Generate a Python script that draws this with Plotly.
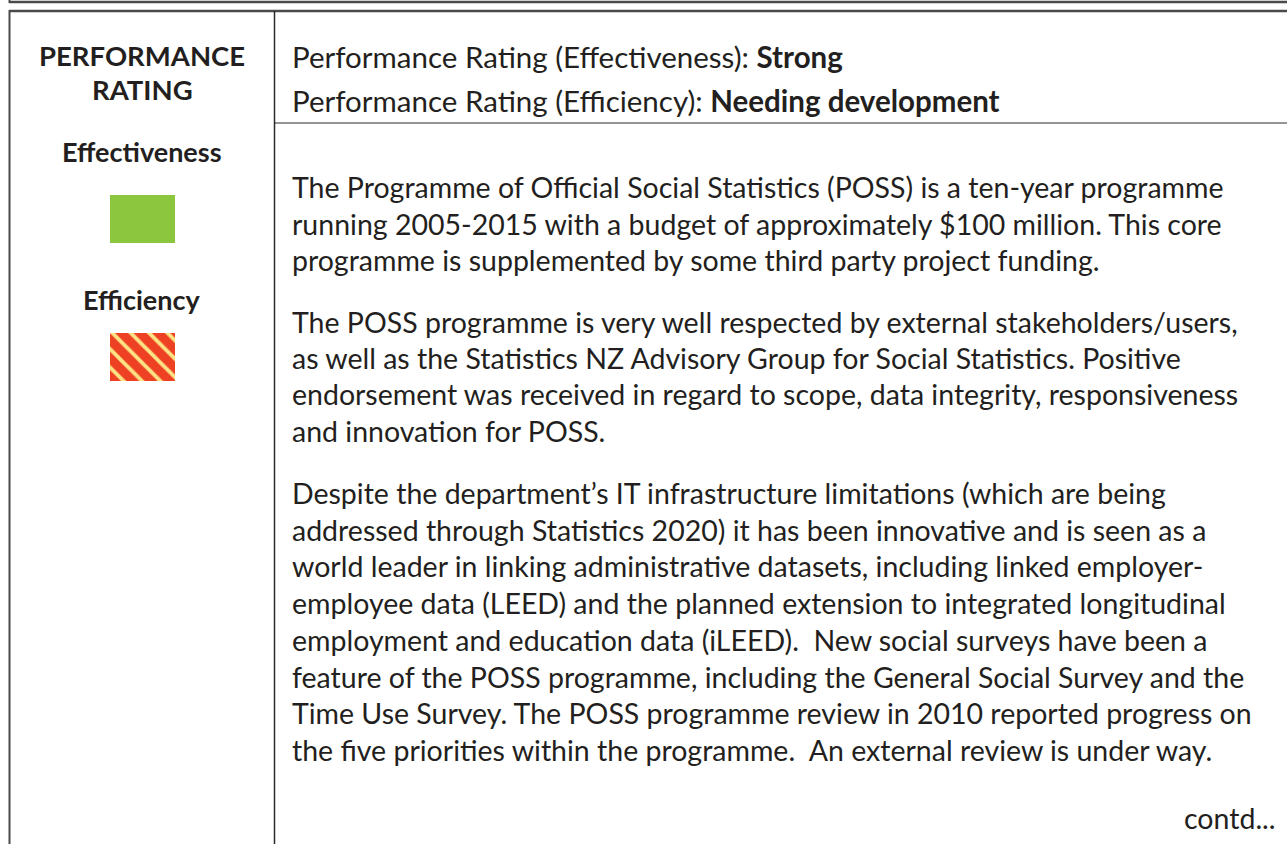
import plotly.graph_objects as go

# Text content
header_lines = [
    "Performance Rating (Effectiveness): <b>Strong</b>",
    "Performance Rating (Efficiency): <b>Needing development</b>",
]
header_y = [56, 100]

body_lines = [
    "The Programme of Official Social Statistics (POSS) is a ten-year programme",
    "running 2005-2015 with a budget of approximately $100 million. This core",
    "programme is supplemented by some third party project funding.",
    "The POSS programme is very well respected by external stakeholders/users,",
    "as well as the Statistics NZ Advisory Group for Social Statistics. Positive",
    "endorsement was received in regard to scope, data integrity, responsiveness",
    "and innovation for POSS.",
    "Despite the department\u2019s IT infrastructure limitations (which are being",
    "addressed through Statistics 2020) it has been innovative and is seen as a",
    "world leader in linking administrative datasets, including linked employer-",
    "employee data (LEED) and the planned extension to integrated longitudinal",
    "employment and education data (iLEED).  New social surveys have been a",
    "feature of the POSS programme, including the General Social Survey and the",
    "Time Use Survey. The POSS programme review in 2010 reported progress on",
    "the five priorities within the programme.  An external review is under way.",
]
body_y = [187, 224, 260, 322, 358, 394, 431, 493, 530, 566, 603, 640, 677, 713, 750]

left_labels = ["<b>PERFORMANCE</b>", "<b>RATING</b>", "<b>Effectiveness</b>", "<b>Efficiency</b>"]
left_y = [55, 89, 151, 299]
left_size = [27.5, 27.5, 27, 27]

FONT = "Lato"
TXT = "#231f20"
LINE = "#4a4a4a"

fig = go.Figure()

# hatched "needing development" swatch
fig.add_trace(go.Bar(
    x=[142.5], y=[48], base=[333], width=[65],
    marker=dict(color="#ee4023", line=dict(width=0),
                pattern=dict(shape="\\", fgcolor="#fde383", bgcolor="#ee4023",
                             size=13, solidity=0.3, fillmode="replace")),
    hoverinfo="skip", showlegend=False,
))

shapes = [
    # bottom of previous box
    dict(type="line", x0=9, x1=1287, y0=2, y1=2, line=dict(color=LINE, width=2.5)),
    dict(type="line", x0=9.5, x1=9.5, y0=0, y1=3, line=dict(color=LINE, width=2)),
    # table frame
    dict(type="line", x0=9, x1=1287, y0=11, y1=11, line=dict(color=LINE, width=2.5)),
    dict(type="line", x0=9.5, x1=9.5, y0=10, y1=844, line=dict(color=LINE, width=2)),
    dict(type="line", x0=274.5, x1=274.5, y0=11, y1=844, line=dict(color="#2a2a2a", width=1.5)),
    dict(type="line", x0=275, x1=1287, y0=123, y1=123, line=dict(color="#2a2a2a", width=1.2)),
    # green swatch
    dict(type="rect", x0=110, x1=175, y0=195, y1=243, fillcolor="#8cc63f", line=dict(width=0)),
]

annotations = []
for t, y, s in zip(left_labels, left_y, left_size):
    annotations.append(dict(x=142, y=y, text=t, showarrow=False, xanchor="center",
                            yanchor="middle", font=dict(family=FONT, size=s, color=TXT)))
for t, y in zip(header_lines, header_y):
    annotations.append(dict(x=290, y=y, text=t, showarrow=False, xanchor="left",
                            yanchor="middle", font=dict(family=FONT, size=29.5, color=TXT)))
for t, y in zip(body_lines, body_y):
    annotations.append(dict(x=290, y=y, text=t, showarrow=False, xanchor="left",
                            yanchor="middle", font=dict(family=FONT, size=28.5, color=TXT)))
annotations.append(dict(x=1278, y=818, text="contd...", showarrow=False, xanchor="right",
                        yanchor="middle", font=dict(family=FONT, size=28.5, color=TXT)))

fig.update_layout(
    width=1287, height=844,
    margin=dict(l=0, r=0, t=0, b=0),
    paper_bgcolor="white", plot_bgcolor="white",
    xaxis=dict(range=[0, 1287], visible=False, fixedrange=True),
    yaxis=dict(range=[844, 0], visible=False, fixedrange=True),
    shapes=shapes, annotations=annotations,
    bargap=0, showlegend=False,
)

fig.write_html("out.html", config={"displayModeBar": False},
               post_script="document.body.style.margin='0';document.body.style.overflow='hidden';")
